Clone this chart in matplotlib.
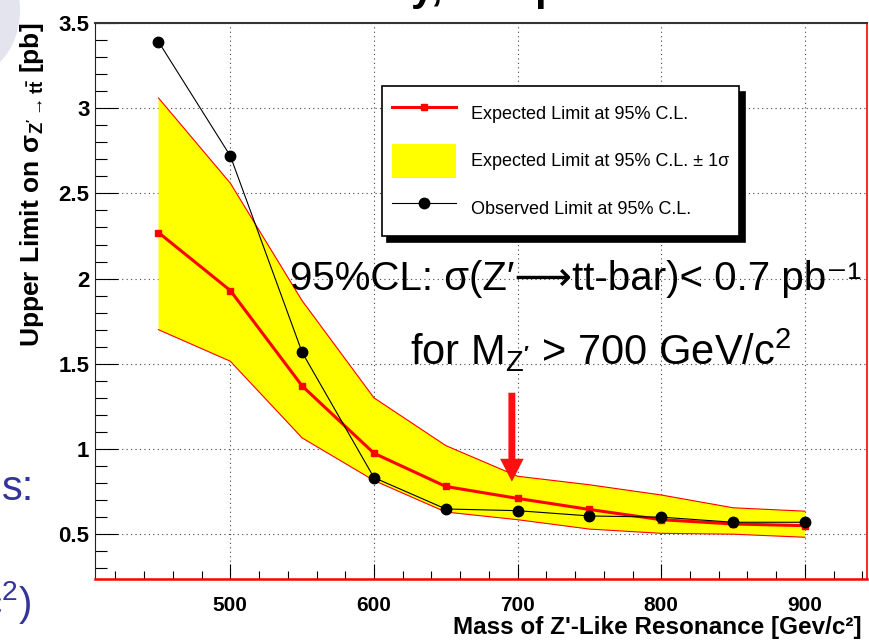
import matplotlib.pyplot as plt
from matplotlib.patches import Ellipse
from matplotlib.ticker import FuncFormatter, MultipleLocator

# Z' -> ttbar upper limits [pb] vs mass [GeV/c^2]
mass = [450, 500, 550, 600, 650, 700, 750, 800, 850, 900]
expected = [2.27, 1.93, 1.37, 0.975, 0.78, 0.71, 0.645, 0.585, 0.56, 0.55]
band_lo = [1.70, 1.515, 1.065, 0.815, 0.63, 0.585, 0.53, 0.505, 0.50, 0.482]
band_hi = [3.06, 2.56, 1.87, 1.30, 1.02, 0.84, 0.79, 0.73, 0.655, 0.635]
observed = [3.39, 2.72, 1.567, 0.832, 0.648, 0.638, 0.607, 0.60, 0.57, 0.57]

plt.rcParams["font.family"] = ["Liberation Sans", "DejaVu Sans"]
plt.rcParams["font.weight"] = "bold"
plt.rcParams["mathtext.fontset"] = "custom"
plt.rcParams["mathtext.rm"] = "Liberation Sans"
plt.rcParams["mathtext.bf"] = "Liberation Sans:bold"
plt.rcParams["mathtext.it"] = "Liberation Sans:italic"

W, H = 869, 640


def px(x, y):
    # pixel position (from top-left) -> figure fraction
    return x / W, 1 - y / H


fig = plt.figure(figsize=(W / 100, H / 100), dpi=100)
left, top, right, bottom = 95, 23, 866.7, 579
ax = fig.add_axes([left / W, 1 - bottom / H, (right - left) / W, (bottom - top) / H])

band = ax.fill_between(mass, band_lo, band_hi, facecolor="#ffff00", edgecolor="none",
                       zorder=2, label="Expected Limit at 95% C.L. ± 1σ")
ax.plot(mass, band_hi, color="red", lw=0.8, zorder=3)
ax.plot(mass, band_lo, color="red", lw=0.8, zorder=3)
exp_line, = ax.plot(mass, expected, color="red", lw=2.2, marker="s", ms=4, zorder=4,
                    label="Expected Limit at 95% C.L.")
obs_line, = ax.plot(mass, observed, color="black", lw=0.8, marker="o", ms=7.5, zorder=5,
                    label="Observed Limit at 95% C.L.")

ax.set_xlim(405.8, 943)
ax.set_ylim(0.237, 3.5)
ax.xaxis.set_major_locator(MultipleLocator(100))
ax.xaxis.set_minor_locator(MultipleLocator(20))
ax.yaxis.set_major_locator(MultipleLocator(0.5))
ax.yaxis.set_minor_locator(MultipleLocator(0.1))
ax.yaxis.set_major_formatter(FuncFormatter(lambda v, _: f"{v:g}"))

ax.tick_params(axis="y", which="major", direction="in", length=16.5, width=0.8, labelsize=16, pad=4)
ax.tick_params(axis="y", which="minor", direction="in", length=8.5, width=0.8)
ax.tick_params(axis="x", which="major", direction="in", length=11, width=0.8, labelsize=15, pad=12)
ax.tick_params(axis="x", which="minor", direction="in", length=5.5, width=0.8)

ax.grid(True, which="major", linestyle=(0, (1, 3)), color="#444444", lw=0.8)
ax.set_axisbelow(True)

ax.spines["top"].set_color("#333333")
ax.spines["top"].set_linewidth(1.5)
ax.spines["left"].set_color("#222222")
ax.spines["bottom"].set_color("red")
ax.spines["bottom"].set_linewidth(1.8)
ax.spines["right"].set_color("red")
ax.spines["right"].set_linewidth(1.2)

ax.set_xlabel("Mass of Z'-Like Resonance [Gev/c²]", fontsize=17.5, fontweight="bold", loc="right")
ax.xaxis.label.set_va("bottom")
ax.xaxis.set_label_coords((862 - left) / (right - left), (bottom - 639) / (bottom - top))
ax.set_ylabel("$\\mathbf{Upper\\ Limit\\ on\\ σ_{Z'\\rightarrow t\\bar{t}}\\ [pb]}$",
              fontsize=19, loc="top")
ax.yaxis.set_label_coords(-0.063, 1.0)

leg = ax.legend(handles=[exp_line, band, obs_line], loc="upper left",
                bbox_to_anchor=px(381.7, 86), bbox_transform=fig.transFigure,
                prop={"size": 13, "weight": "normal"}, fancybox=False, framealpha=1,
                edgecolor="black",
                shadow={"ox": 4, "oy": -4, "facecolor": "black", "edgecolor": "black", "alpha": 1},
                borderpad=0.55, labelspacing=0.7, handlelength=3.55, handleheight=2.6,
                handletextpad=0.85, borderaxespad=0)
leg.get_frame().set_linewidth(1.2)
leg.set_zorder(10)

# slide annotation
fig.text(*px(290, 290), "95%CL: σ(Z′⟶tt-bar)< 0.7 pb⁻¹", fontsize=29, fontweight="normal",
         ha="left", va="baseline")
fig.text(*px(410, 365), "for M$_{\\mathdefault{Z}'}$ > 700 GeV/c$^{\\mathdefault{2}}$", fontsize=30,
         fontweight="normal", ha="left", va="baseline")
ax.annotate("", xy=(696, 0.808), xytext=(696, 1.33),
            arrowprops=dict(arrowstyle="simple,head_length=1.65,head_width=1.7,tail_width=0.5",
                            color="#ff1010", lw=0, shrinkA=0, shrinkB=0, mutation_scale=10))

# bits of the surrounding slide
fig.patches.append(Ellipse(px(-30, 10), 100 / W, 130 / H, transform=fig.transFigure,
                           facecolor="#e4e4ee", edgecolor="none"))
fig.text(*px(103, 0), "CMS Preliminary, 100 pb", fontsize=30, fontweight="bold", va="baseline")
fig.text(*px(2, 500), "s:", color="#333399", fontsize=30, fontweight="normal", va="baseline")
fig.text(*px(31, 616), "c$^{\\mathdefault{2}}$)", color="#333399", fontsize=29, fontweight="normal",
         ha="right", va="baseline")

fig.savefig("out.png", dpi=100)
